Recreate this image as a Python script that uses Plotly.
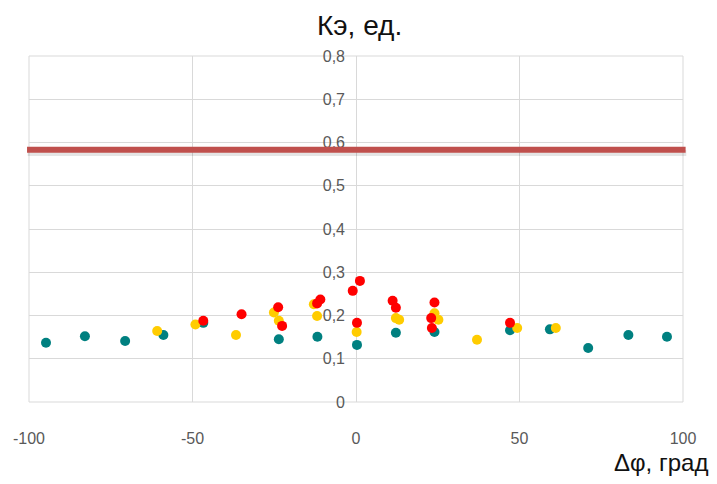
import plotly.graph_objects as go

# Teal series
teal_x = [-94.8, -82.9, -70.6, -58.9, -46.7, -23.6, -11.8, 0.3, 12.2, 24.0, 47.1, 59.3, 71.0, 83.3, 95.1]
teal_y = [0.137, 0.152, 0.141, 0.155, 0.183, 0.145, 0.151, 0.132, 0.160, 0.162, 0.166, 0.168, 0.125, 0.155, 0.151]

# Yellow series
yellow_x = [-60.8, -49.1, -36.7, -25.1, -23.6, -12.9, -11.9, 0.2, 12.2, 13.2, 24.0, 25.2, 37.0, 49.3, 61.1]
yellow_y = [0.164, 0.179, 0.155, 0.207, 0.188, 0.226, 0.199, 0.162, 0.194, 0.190, 0.205, 0.190, 0.144, 0.171, 0.171]

# Red series
red_x = [-46.7, -35.0, -23.8, -22.6, -11.9, -10.9, -1.0, 1.2, 0.3, 11.2, 12.2, 24.0, 23.0, 23.2, 47.1]
red_y = [0.188, 0.203, 0.219, 0.176, 0.228, 0.237, 0.257, 0.280, 0.183, 0.234, 0.218, 0.230, 0.194, 0.171, 0.183]

# Threshold line
threshold = 0.583

x_ticks = [-100, -50, 0, 50, 100]
x_labels = ["-100", "-50", "0", "50", "100"]
y_ticks = [0, 0.1, 0.2, 0.3, 0.4, 0.5, 0.6, 0.7, 0.8]
y_labels = ["0", "0,1", "0,2", "0,3", "0,4", "0,5", "0,6", "0,7", "0,8"]

tick_font = dict(family="Liberation Sans Narrow, Liberation Sans, sans-serif", size=16, color="#595959")

fig = go.Figure()
for xs, ys, col in [(teal_x, teal_y, "#008080"), (yellow_x, yellow_y, "#FFCC00"), (red_x, red_y, "#FF0000")]:
    fig.add_trace(go.Scatter(x=xs, y=ys, mode="markers",
                             marker=dict(size=10, color=col, line=dict(width=0)),
                             showlegend=False, hoverinfo="skip"))

# border
fig.add_shape(type="rect", xref="paper", yref="paper", x0=0, x1=1, y0=0, y1=1,
              line=dict(color="#D9D9D9", width=1), layer="below")
# shadow of threshold line
fig.add_shape(type="line", xref="paper", yref="y", x0=-0.002, x1=1.005,
              y0=threshold - 0.007, y1=threshold - 0.007,
              line=dict(color="rgba(0,0,0,0.10)", width=6))
fig.add_shape(type="line", xref="paper", yref="y", x0=-0.003, x1=1.004,
              y0=threshold, y1=threshold,
              line=dict(color="#C0504D", width=6))

fig.add_annotation(text="Кэ, ед.", xref="paper", yref="paper", x=0.506, y=1.0,
                   yshift=31, xanchor="center", yanchor="middle", showarrow=False,
                   font=dict(family="Liberation Sans, Arial, sans-serif", size=28, color="#111111"))
fig.add_annotation(text="Δφ, град", xref="paper", yref="paper", x=1.0, y=0,
                   xshift=27, yshift=-60, xanchor="right", yanchor="middle", showarrow=False,
                   font=dict(family="Liberation Sans, Arial, sans-serif", size=24, color="#111111"))

fig.update_layout(
    width=709, height=476,
    margin=dict(l=21, r=34, t=48, b=82),
    paper_bgcolor="white", plot_bgcolor="white",
    separators=", ",
    xaxis=dict(range=[-100, 100], tickvals=x_ticks, ticktext=x_labels,
               showgrid=True, gridcolor="#D9D9D9", gridwidth=1,
               zeroline=False, showline=False, ticks="",
               tickfont=tick_font, ticklabelstandoff=25, fixedrange=True,
               automargin=False),
    yaxis=dict(range=[0, 0.8], tickvals=y_ticks, ticktext=y_labels,
               anchor="free", position=0.5,
               showgrid=True, gridcolor="#D9D9D9", gridwidth=1,
               zeroline=False, showline=False, ticks="",
               tickfont=tick_font, ticklabelstandoff=11, fixedrange=True,
               automargin=False),
)

fig.write_html("out.html")
